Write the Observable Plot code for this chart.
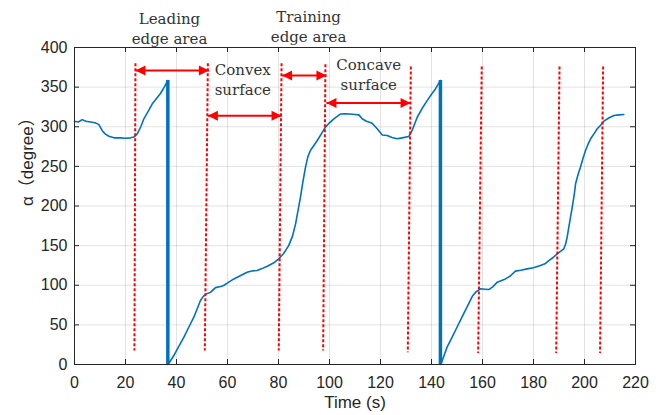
<!DOCTYPE html>
<html><head><meta charset="utf-8">
<script src="https://cdn.jsdelivr.net/npm/d3@7"></script>
<script src="https://cdn.jsdelivr.net/npm/@observablehq/plot@0.6"></script>
<style>body{margin:0;background:#fff}</style>
</head><body><div id="chart"></div>
<script>
const time = [0,1.5,3,4.5,6.3,8,9.5,10.9,12,13.5,15.5,18,20,22,23.3,24.6,26,27.2,29,30.5,32,33.7,35.2,36.6,
  36.6,36.9,38.9,40.9,42.9,44.8,46.8,48.2,49.4,50.5,51.4,53.3,55.3,57.3,58.5,60.5,62.5,65,67.7,69.5,71.6,73.5,75.6,78,80.1,82,84,85.5,86.7,87.7,88.6,89.6,90.6,91.5,92.5,93.8,95.2,96.8,98.4,100,101.7,103,104.3,106,108,110,111.5,112.8,114.5,116.7,118.7,120.7,122.6,124.5,126.5,128.5,131.1,132.4,134.4,136.3,138.3,140,141.6,143.5,
  143.5,143.7,145,146.1,148,150,152,154.3,156,157.3,159.2,161,162.5,164,165.8,167.5,169,171,172.9,175,177.5,180,182.7,184.5,186,187.7,189.3,190.7,191.9,192.6,193.2,194.2,195.2,196,196.5,197.5,198.4,199.4,200.4,201.4,202.4,203.7,205,206.3,207.6,209.5,211.5,213.5,215.4];
const angle = [307,306,309,307,306,305,303,295,291,288,286,286,285.5,286,287,291,300,310,320,329,335,342,350,358.4,
  0,1,11,23,34.5,47,59.7,71,80.8,86,88.5,91,97,98.5,99.7,104,108,112,116.5,118,118.6,121,124,128,133.4,140,150,162,177.5,195,211,231,249,262,270,276,282.6,291,299.5,305,310,313,316,316.5,316,315.5,315,310,307,304.5,297.4,289.5,289,286.5,284.8,286,287.7,295.3,312,323,333,341,348,358.4,
  0,0.5,12,21.9,34,47,60,75,86,91.2,95.5,95,94.6,98,103.9,106,108,112,117.8,119,120.7,122,125,127,131,135,139.7,143,146,152,160.6,180,198.5,215,228,240,249,260,270,278,284.8,291,297.4,302,307,311,314.2,315,315.5];
const dropTime = [36.6, 143.5];
const dropTop = [358.4, 358.4];
const dashTopX = [23.9, 52.3, 81.2, 98.4, 131.9, 159.7, 190.2, 207.3];
const dashBottomX = [23.5, 51.1, 80.1, 97.5, 130.7, 158.3, 188.9, 206.1];
const dashTopY = [380, 380, 380, 379, 376, 376, 376, 376];
const dashBottomY = [17.7, 17.7, 17.7, 17.7, 15.5, 14.5, 14.5, 14.5];
const arrowStart = [23.9, 52.3, 81.4, 98.8];
const arrowEnd = [52.7, 81.2, 98.8, 131.8];
const arrowY = [371, 313.8, 364.7, 330];
const labelText = ["Leading\nedge area", "Training\nedge area", "Convex\nsurface", "Concave\nsurface"];
const labelX = [37.25, 91.8, 66.0, 115.4];
const labelY = [425.2, 427.8, 361.1, 367.2];
const xTicks = [0,20,40,60,80,100,120,140,160,180,200,220];
const yTicks = [0,50,100,150,200,250,300,350,400];

const curve = time.map((t,i)=>({t, a: angle[i]}));
const drops = dropTime.map((t,i)=>({t, top: dropTop[i]}));
const dashes = dashTopX.map((xt,i)=>({xt, xb: dashBottomX[i], yt: dashTopY[i], yb: dashBottomY[i]}));
const arrows = arrowStart.map((s,i)=>({s, e: arrowEnd[i], y: arrowY[i]}));
const labels = labelText.map((text,i)=>({text, x: labelX[i], y: labelY[i]}));

const headRight = {draw(ctx){ctx.moveTo(0,0);ctx.lineTo(-10,-5);ctx.lineTo(-10,5);ctx.closePath();}};
const headLeft = {draw(ctx){ctx.moveTo(0,0);ctx.lineTo(10,-5);ctx.lineTo(10,5);ctx.closePath();}};
const axisColor = "#262626";

const chart = Plot.plot({
  width: 664, height: 415,
  marginLeft: 74, marginRight: 29, marginTop: 47, marginBottom: 51,
  x: {domain: [0, 220]},
  y: {domain: [0, 400]},
  style: {fontFamily: "Liberation Sans, Arial, sans-serif", fontSize: "16px", color: axisColor, background: "#fff", overflow: "visible"},
  marks: [
    Plot.gridX(xTicks, {stroke: axisColor, strokeOpacity: 0.13}),
    Plot.gridY(yTicks, {stroke: axisColor, strokeOpacity: 0.13}),
    Plot.line(curve, {x: "t", y: "a", stroke: "#0072BD", strokeWidth: 1.6}),
    Plot.ruleX(drops, {x: "t", y1: 0, y2: "top", stroke: "#0072BD", strokeWidth: 3.5}),
    Plot.link(dashes, {x1: "xt", y1: "yt", x2: "xb", y2: "yb", stroke: "#ff0000", strokeWidth: 2, strokeDasharray: "3,2"}),
    Plot.link(arrows, {x1: "s", x2: "e", y1: "y", y2: "y", stroke: "#ff0000", strokeWidth: 2}),
    Plot.dot(arrows, {x: "s", y: "y", symbol: headLeft, fill: "#ff0000", stroke: "none"}),
    Plot.dot(arrows, {x: "e", y: "y", symbol: headRight, fill: "#ff0000", stroke: "none"}),
    Plot.text(labels, {x: "x", y: "y", text: "text", fontFamily: "DejaVu Serif", fontSize: 15, lineHeight: 1.33, fill: "#333"}),
    Plot.frame({stroke: axisColor}),
    Plot.tickX(xTicks, {x: d => d, insetTop: 312, stroke: axisColor}),
    Plot.tickX(xTicks, {x: d => d, insetBottom: 312, stroke: axisColor}),
    Plot.tickY(yTicks, {y: d => d, insetRight: 556, stroke: axisColor}),
    Plot.tickY(yTicks, {y: d => d, insetLeft: 556, stroke: axisColor}),
    Plot.axisX(xTicks, {tickSize: 0, tickPadding: 12, fontSize: 16}),
    Plot.axisY(yTicks, {tickSize: 0, tickPadding: 7, fontSize: 16}),
    Plot.text(["Time (s)"], {frameAnchor: "bottom", dy: 43, fontSize: 17, fill: axisColor}),
    Plot.text(["α（degree）"], {frameAnchor: "left", dx: -47, rotate: -90, fontSize: 17, fill: axisColor, fontFamily: "Liberation Sans, Noto Sans CJK SC, sans-serif"})
  ]
});
document.getElementById("chart").appendChild(chart);
</script></body></html>
